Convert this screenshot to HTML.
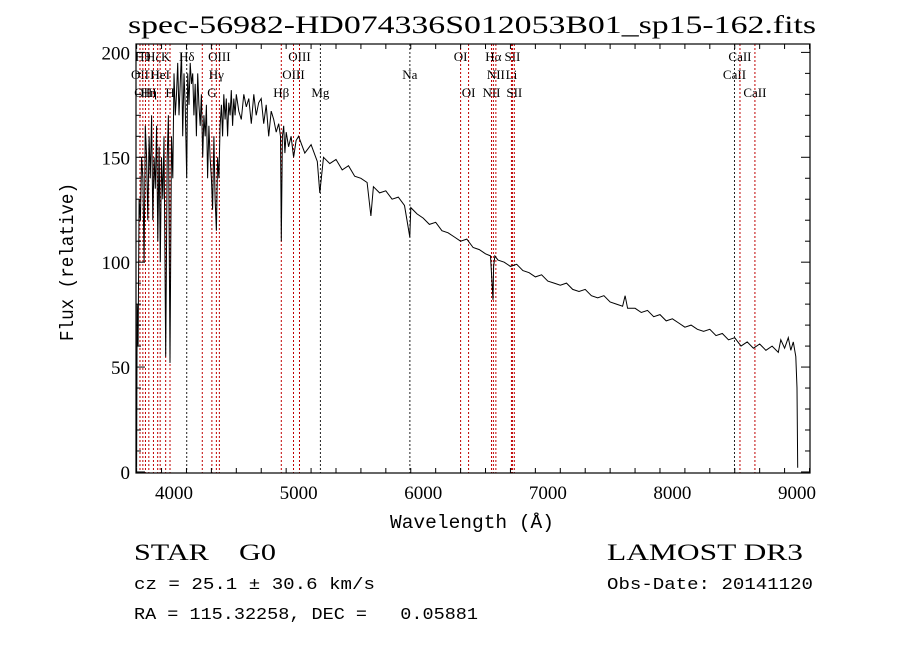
<!DOCTYPE html>
<html><head><meta charset="utf-8"><style>
body{margin:0;background:#fff;width:900px;height:649px;overflow:hidden}
svg{display:block}
text{font-family:"Liberation Serif",serif;fill:#000;white-space:pre}
.m{font-family:"Liberation Mono",monospace}
</style></head><body>
<svg id="chart" width="900" height="649" viewBox="0 0 900 649">
<text x="128" y="33" textLength="688" lengthAdjust="spacingAndGlyphs" font-size="25">spec-56982-HD074336S012053B01_sp15-162.fits</text>
<g id="lines"></g>
<path id="spec" fill="none" stroke="#000" stroke-width="1"/>
<rect x="136" y="44" width="674" height="429" fill="none" stroke="#000" stroke-width="1.2"/>
<g id="axes"></g>
<text x="390" y="528" textLength="164" lengthAdjust="spacingAndGlyphs" font-size="19" class="m">Wavelength (Å)</text>
<text transform="translate(73,341) rotate(-90)" textLength="158" lengthAdjust="spacingAndGlyphs" font-size="19" class="m">Flux (relative)</text>
<text x="134" y="560" textLength="142" lengthAdjust="spacingAndGlyphs" font-size="23">STAR    G0</text>
<text x="607" y="560" textLength="196" lengthAdjust="spacingAndGlyphs" font-size="23">LAMOST DR3</text>
<text x="134" y="589" textLength="241" lengthAdjust="spacingAndGlyphs" font-size="17" class="m">cz = 25.1 ± 30.6 km/s</text>
<text x="607" y="589" textLength="206" lengthAdjust="spacingAndGlyphs" font-size="17" class="m">Obs-Date: 20141120</text>
<text x="134" y="619" textLength="344" lengthAdjust="spacingAndGlyphs" font-size="17" class="m">RA = 115.32258, DEC =   0.05881</text>
</svg>
<script>
const wave=[3700,3705,3712,3720,3730,3740,3750,3760,3770,3780,3790,3800,3810,3820,3830,3840,3850,3860,3870,3880,3890,3900,3910,3920,3933,3945,3955,3968,3980,3990,4000,4010,4020,4030,4040,4050,4060,4070,4080,4090,4102,4110,4120,4130,4140,4150,4160,4170,4180,4190,4200,4210,4220,4230,4240,4250,4260,4270,4280,4290,4300,4310,4320,4330,4340,4350,4360,4370,4380,4390,4400,4410,4420,4430,4440,4450,4460,4470,4480,4490,4500,4520,4540,4560,4580,4600,4620,4640,4660,4680,4700,4720,4740,4760,4780,4800,4820,4840,4855,4861,4870,4880,4890,4900,4920,4940,4960,4980,5000,5050,5100,5150,5170,5200,5250,5300,5350,5400,5450,5500,5550,5580,5600,5650,5700,5750,5800,5850,5892,5900,5950,6000,6050,6100,6150,6200,6250,6300,6350,6400,6450,6500,6540,6560,6565,6575,6600,6650,6700,6750,6800,6850,6900,6950,7000,7050,7100,7150,7200,7250,7300,7350,7400,7450,7500,7550,7600,7620,7640,7700,7750,7800,7850,7900,7950,8000,8050,8100,8150,8200,8250,8300,8350,8400,8450,8500,8550,8600,8650,8700,8750,8800,8850,8870,8900,8930,8950,8970,8990,9000,9005];
const flux=[2,80,60,130,120,150,140,100,165,150,120,160,140,170,120,150,135,165,110,155,100,150,130,160,55,150,170,52,160,140,190,170,180,195,170,185,200,160,190,175,140,190,175,195,185,190,170,185,160,190,175,165,180,150,170,160,175,140,165,150,140,125,160,130,115,150,140,165,175,160,180,168,178,160,176,170,182,165,178,170,180,172,168,180,174,178,166,180,170,176,178,166,175,160,172,168,162,166,160,110,160,165,152,162,155,160,150,158,160,152,156,148,133,150,147,149,144,146,141,140,138,122,136,133,134,130,131,127,112,126,123,121,118,119,115,114,112,110,111,107,106,104,103,82,98,103,101,100,98,99,96,95,93,94,91,90,89,90,87,86,87,84,83,84,81,80,79,84,78,78,76,77,74,75,72,73,71,69,70,68,67,68,65,66,63,64,60,62,59,61,58,60,57,63,59,64,58,62,55,40,2];
const xTicks=[4000,5000,6000,7000,8000,9000];
const yTicks=[0,50,100,150,200];
const lineWaves=[3727,3750,3771,3798,3835,3869,3889,3933,3968,4102,4227,4304,4340,4364,4861,4959,5007,5175,5893,6300,6364,6548,6563,6583,6708,6716,6731,8498,8542,8662];
const lineNames=["OII","Hθ","OIII","Hη","Hζ","Hε","HeI","K","H","Hδ","","G","Hγ","OIII","Hβ","OIII","OIII","Mg","Na","OI","OI","NII","Hα","NII","Li","SII","SII","CaII","CaII","CaII"];
const lineRow=[1,0,2,2,0,1,1,0,2,0,1,2,1,0,2,1,0,2,1,0,2,2,0,1,1,0,2,1,0,2];
const lineBlack=[0,0,0,0,0,0,0,0,0,1,0,0,0,0,0,0,0,1,1,0,0,0,0,0,0,0,0,1,0,0];
const X0=136,X1=810,XMIN=3695,XMAX=9104,Y0=473,Y1=44,YMIN=-0.5,YMAX=204;
const sx=w=>X0+(w-XMIN)/(XMAX-XMIN)*(X1-X0);
const sy=f=>Y0-(f-YMIN)/(YMAX-YMIN)*(Y0-Y1);
const NS="http://www.w3.org/2000/svg";
function mk(t,a){const e=document.createElementNS(NS,t);for(const k in a)e.setAttribute(k,a[k]);return e;}
let d="";
for(let i=0;i<wave.length;i++){d+=(d?"L":"M")+sx(Math.max(wave[i],3697)).toFixed(1)+","+sy(flux[i]).toFixed(1);}
document.getElementById("spec").setAttribute("d",d);
const lg=document.getElementById("lines");
for(let i=0;i<lineWaves.length;i++){
 const x=sx(lineWaves[i]);
 const l=mk("line",{x1:x,x2:x,y1:Y1,y2:Y0,stroke:lineBlack[i]?"#222":"#c00000","stroke-width":1,"stroke-dasharray":"2,2"});
 
 
 lg.appendChild(l);
 if(lineNames[i]){
  const t=mk("text",{x:x,y:61+lineRow[i]*18,"font-size":13,"text-anchor":"middle"});
  t.textContent=lineNames[i];
  
  
  lg.appendChild(t);
 }
}
const ax=document.getElementById("axes");
for(let w=3700;w<=9100;w+=200){const x=sx(w);const big=w%1000===0;
 const a=mk("line",{x1:x,x2:x,y1:Y0,y2:Y0-(big?9:5),stroke:"#000"});ax.appendChild(a);
 const b=mk("line",{x1:x,x2:x,y1:Y1,y2:Y1+(big?9:5),stroke:"#000"});ax.appendChild(b);}
xTicks.forEach(v=>{const t=mk("text",{x:sx(v),y:Y0+26,"font-size":19,"text-anchor":"middle"});t.textContent=v;ax.appendChild(t);});
for(let f=0;f<=200;f+=10){const y=sy(f);const big=f%50===0;
 const a=mk("line",{x1:X0,x2:X0+(big?9:5),y1:y,y2:y,stroke:"#000"});ax.appendChild(a);
 const b=mk("line",{x1:X1,x2:X1-(big?9:5),y1:y,y2:y,stroke:"#000"});ax.appendChild(b);}
yTicks.forEach(v=>{const t=mk("text",{x:X0-6,y:sy(v)+7,"font-size":19,"text-anchor":"end"});t.textContent=v;ax.appendChild(t);});
</script>
</body></html>
